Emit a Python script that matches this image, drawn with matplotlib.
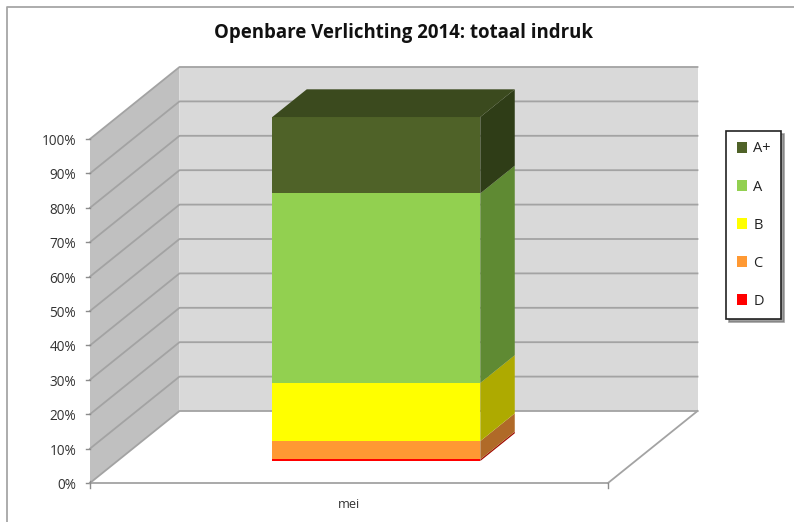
#!/usr/bin/env python3
"""Openbare Verlichting 2014: 3D-look stacked column, drawn on a pixel canvas."""
import matplotlib
matplotlib.use("Agg")
import matplotlib.pyplot as plt
from matplotlib.patches import Patch, Polygon

TITLE = "Openbare Verlichting 2014: totaal indruk"
CATEGORY = "mei"
GRADES = ["D", "C", "B", "A", "A+"]
SHARES = [0.5, 5.3, 16.9, 55.1, 22.2]
TICKS = [0, 10, 20, 30, 40, 50, 60, 70, 80, 90, 100]

FRONT = {"D": "#ff0000", "C": "#ff9933", "B": "#ffff00", "A": "#92d050", "A+": "#4f6228"}
SIDE = {"D": "#a00d00", "C": "#b06a28", "B": "#aeaa00", "A": "#5f8a33", "A+": "#2f3d17"}
TOP = "#3b4a1e"

plt.rcParams["font.family"] = ["Open Sans", "DejaVu Sans"]

# chart geometry in pixels of the 794x522 picture
X0, X1 = 90, 608
Y0, Y100 = 483, 139
DX, DY = 89.5, -72
BAR_D0 = 0.305
BAR_D1 = 0.69
BAR_X0, BAR_X1 = 245, 453
GRID = "#a3a3a3"


def pt(x, value, depth):
    """Project (pixel x on the front plane, percent, depth 0..1) to the canvas."""
    y = Y0 + (Y100 - Y0) * value / 100
    return (x + DX * depth, y + DY * depth)


fig = plt.figure(figsize=(7.94, 5.22), dpi=100)
ax = fig.add_axes([0, 0, 1, 1])
ax.set_xlim(0, 794)
ax.set_ylim(522, 0)
ax.axis("off")

# outer frame: only top and left are visible
ax.plot([7, 7, 794], [522, 7, 7], color="#a6a6a6", lw=1.3, zorder=1)

# walls
ax.add_patch(Polygon([pt(X0, 0, 1), pt(X1, 0, 1), pt(X1, 100, 1), pt(X0, 100, 1)],
                     fc="#d9d9d9", ec="none", zorder=1))
ax.add_patch(Polygon([pt(X0, 0, 0), pt(X0, 0, 1), pt(X0, 100, 1), pt(X0, 100, 0)],
                     fc="#c0c0c0", ec="none", zorder=1))

# gridlines over both walls
for t in TICKS:
    a, b, c = pt(X0, t, 0), pt(X0, t, 1), pt(X1, t, 1)
    ax.plot([a[0], b[0], c[0]], [a[1], b[1], c[1]], color=GRID, lw=1.3, zorder=2)
    ax.plot([a[0] - 4, a[0]], [a[1], a[1]], color="#8c8c8c", lw=1.0, zorder=2)
    ax.text(a[0] - 14, a[1] + 2.5, f"{t}%", ha="right", va="center", fontsize=9.8, color="#333333")

# floor edges and axis
ax.plot([X0, X1], [Y0, Y0], color=GRID, lw=1.3, zorder=2)
a, b = pt(X1, 0, 0), pt(X1, 0, 1)
ax.plot([a[0], b[0]], [a[1], b[1]], color=GRID, lw=1.3, zorder=2)
ax.plot([X1, X1], [Y0, Y0 + 5], color="#8c8c8c", lw=1.0, zorder=2)
ax.plot([X0, X0], [Y0 - 2, Y0 + 5], color="#8c8c8c", lw=1.0, zorder=2)

# stacked column
base = 0
for grade, share in zip(GRADES, SHARES):
    top = base + share
    ax.add_patch(Polygon([pt(BAR_X0, base, BAR_D0), pt(BAR_X1, base, BAR_D0),
                          pt(BAR_X1, top, BAR_D0), pt(BAR_X0, top, BAR_D0)],
                         fc=FRONT[grade], ec="none", zorder=3))
    ax.add_patch(Polygon([pt(BAR_X1, base, BAR_D0), pt(BAR_X1, base, BAR_D1),
                          pt(BAR_X1, top, BAR_D1), pt(BAR_X1, top, BAR_D0)],
                         fc=SIDE[grade], ec="none", zorder=3))
    base = top
ax.add_patch(Polygon([pt(BAR_X0, base, BAR_D0), pt(BAR_X1, base, BAR_D0),
                      pt(BAR_X1, base, BAR_D1), pt(BAR_X0, base, BAR_D1)],
                     fc=TOP, ec="none", zorder=3))

ax.text((X0 + X1) / 2, 505, CATEGORY, ha="center", va="center", fontsize=9.2, color="#333333")
ax.text(404, 33, TITLE, ha="center", va="center", fontsize=13.4, fontweight="bold", color="#111111")

# legend, top entry first
handles = [Patch(fc=FRONT[g], ec="none", label=g) for g in reversed(GRADES)]
leg = ax.legend(handles=handles, loc="upper left", bbox_to_anchor=(726 / 794, 1 - 131 / 522),
                borderaxespad=0, frameon=True, fancybox=False, edgecolor="#222222",
                framealpha=1, shadow={"color": "#777777", "alpha": 0.7, "ox": 2, "oy": -2},
                fontsize=10.5, handlelength=0.75, handleheight=0.75, handletextpad=0.4,
                labelspacing=1.58, borderpad=0.72, labelcolor="#222222")
leg.get_frame().set_linewidth(1.2)
leg.set_zorder(5)

fig.savefig("out.png", dpi=100)
